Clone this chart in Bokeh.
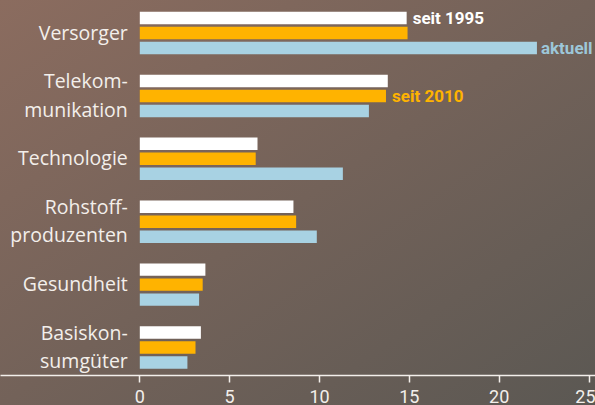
from bokeh.plotting import figure
from bokeh.models import Range1d, FixedTicker, ColumnDataSource
from bokeh.transform import dodge
from bokeh.core.properties import value
from bokeh.embed import file_html
from bokeh.resources import INLINE

# ---- data ----
categories = ["Versorger", "Telekom-\nmunikation", "Technologie",
              "Rohstoff-\nproduzenten", "Gesundheit", "Basiskon-\nsumgüter"]
seit_1995 = [14.85, 13.8, 6.55, 8.55, 3.65, 3.4]
seit_2010 = [14.9, 13.7, 6.45, 8.7, 3.5, 3.1]
aktuell = [22.1, 12.75, 11.3, 9.85, 3.3, 2.65]
x_ticks = [0, 5, 10, 15, 20, 25]
series_labels = ["seit 1995", "seit 2010", "aktuell"]

# ---- style ----
C_WHITE = "#ffffff"
C_ORANGE = "#ffb300"
C_BLUE = "#a8d2e3"
C_BLUE_TXT = "#9dc7d9"
C_TEXT = "#f3efeb"
FONT = "Open Sans"
FONT2 = "Roboto"

pos = list(range(len(categories)))
src = ColumnDataSource(dict(pos=pos, cat=categories, s95=seit_1995,
                            s10=seit_2010, akt=aktuell))

W, H = 595, 405
p = figure(width=W, height=H, output_backend="svg", toolbar_location=None,
           x_range=Range1d(-139.3 / 17.97, (W - 139.3) / 17.97),
           y_range=Range1d(5.445, -0.517),
           y_axis_location=None, min_border=0)
p.background_fill_alpha = 0
p.border_fill_alpha = 0
p.outline_line_color = None
p.xgrid.visible = False
p.ygrid.visible = False

off = 0.2385
bh = 0.198
p.hbar(y=dodge("pos", -off, range=p.y_range), right="s95", left=0, height=bh,
       source=src, fill_color=C_WHITE, line_color=None)
p.hbar(y=dodge("pos", 0, range=p.y_range), right="s10", left=0, height=bh,
       source=src, fill_color=C_ORANGE, line_color=None)
p.hbar(y=dodge("pos", off, range=p.y_range), right="akt", left=0, height=bh,
       source=src, fill_color=C_BLUE, line_color=None)

# category labels
p.text(x=0, y="pos", text="cat", source=src, x_offset=-12, y_offset=-1,
       text_align="right", text_baseline="middle", text_line_height=1.05,
       text_font=value(FONT), text_font_size="19.5px", text_color=C_TEXT)

# series annotations
p.text(x=[seit_1995[0]], y=[pos[0] - off], text=[series_labels[0]], x_offset=6,
       text_align="left", text_baseline="middle", text_font=value(FONT2),
       text_font_style="bold", text_font_size="17px", text_color=C_WHITE)
p.text(x=[seit_2010[1]], y=[pos[1]], text=[series_labels[1]], x_offset=6,
       text_align="left", text_baseline="middle", text_font=value(FONT2),
       text_font_style="bold", text_font_size="17px", text_color=C_ORANGE)
p.text(x=[aktuell[0]], y=[pos[0] + off], text=[series_labels[2]], x_offset=4,
       text_align="left", text_baseline="middle", text_font=value(FONT2),
       text_font_style="bold", text_font_size="17px", text_color=C_BLUE_TXT)

ax = p.xaxis[0]
ax.ticker = FixedTicker(ticks=x_ticks)
ax.axis_line_color = C_TEXT
ax.axis_line_width = 1.5
ax.major_tick_line_color = C_TEXT
ax.major_tick_line_width = 1.5
ax.major_tick_in = 0
ax.major_tick_out = 7
ax.minor_tick_line_color = None
ax.major_label_standoff = 7
ax.major_label_text_color = C_TEXT
ax.major_label_text_font = FONT2
ax.major_label_text_font_size = "18px"

html = file_html(p, INLINE, title="Chart")
html = html.replace(
    "</head>",
    "<style>html{min-height:100%;background:linear-gradient(to bottom right,#8b6c5f,#5b5853);}"
    "body{background:transparent;}</style></head>", 1)
open("out.html", "w").write(html)
